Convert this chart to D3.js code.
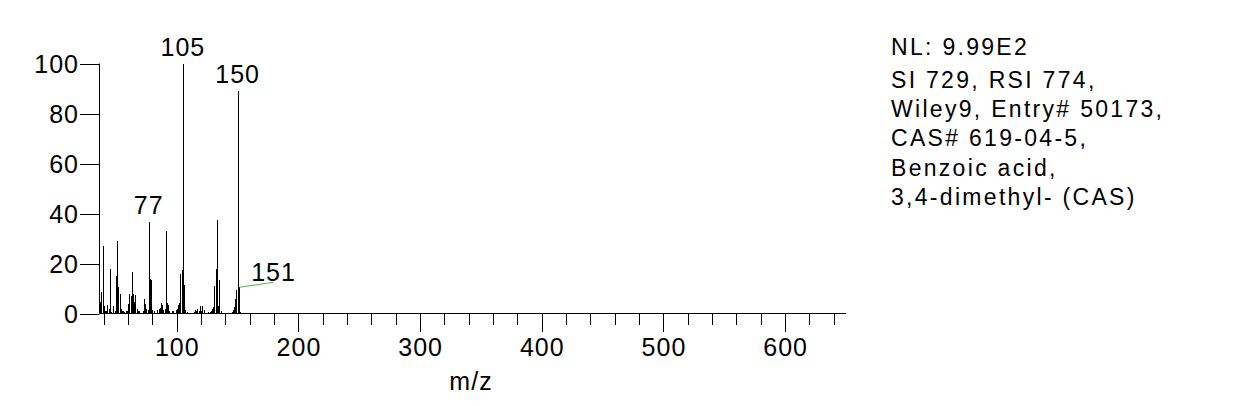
<!DOCTYPE html>
<html>
<head>
<meta charset="utf-8">
<script src="https://cdn.jsdelivr.net/npm/d3@7"></script>
<style>
  body { margin: 0; background: #fff; }
  text { font-family: "Liberation Sans", Arial, sans-serif; fill: #000; }
</style>
</head>
<body>
<div id="chart"></div>
<script>
// m/z values and relative abundances
const mz = [37, 38, 39, 40, 41, 42, 43, 44, 45, 46, 48, 49, 50, 51, 52, 53, 54, 55, 56, 57, 58, 59,
  60, 61, 62, 63, 64, 65, 66, 67, 68, 69, 72, 73, 74, 75, 76, 77, 78, 79, 80, 81, 84, 85, 86, 87,
  88, 89, 90, 91, 92, 93, 94, 96, 97, 99, 100, 101, 102, 103, 104, 105, 106, 107, 108, 114, 115,
  116, 117, 118, 119, 120, 121, 122, 126, 127, 128, 129, 130, 131, 132, 133, 134, 135, 136, 145,
  146, 147, 148, 149, 150, 151, 152];
const abundance = [4.5, 8.5, 27, 3, 1, 1, 3.3, 2, 18, 0.8, 3, 1, 15, 29, 10.5, 8, 2, 1, 1.2, 0.8, 1.2, 1,
  4, 7.7, 7, 16.5, 8, 4.5, 7.3, 2, 1, 1, 1, 6, 4, 2, 1.5, 36.5, 14, 13.6, 1.3, 1, 1.5, 2, 2.2, 4.3,
  3.3, 1.5, 2, 33, 4.3, 3.3, 1, 1, 1, 1.5, 2, 3.3, 4.3, 16, 17.6, 100, 11.3, 1.5, 0.8, 0.8, 1.5,
  1.2, 2, 1, 3, 1, 3, 1.5, 0.5, 0.8, 1, 2, 2.7, 11, 18, 37.6, 3, 13.3, 1, 0.6,
  1.3, 2.5, 6, 9.6, 89, 10.5, 0.8];

// labelled peaks; 151 gets a leader line
const labelledPeaks = [77, 105, 150];
const leaderPeaks = [151];

const xTicksMajor = [100, 200, 300, 400, 500, 600];
const xTicksMinor = [40, 60, 80, 120, 140, 160, 180, 220, 240, 260, 280, 320, 340, 360, 380,
  420, 440, 460, 480, 520, 540, 560, 580, 620, 640];
const yTicks = [0, 20, 40, 60, 80, 100];

const infoLines = ["NL: 9.99E2", "SI 729, RSI 774,", "Wiley9, Entry# 50173,",
  "CAS# 619-04-5,", "Benzoic acid,", "3,4-dimethyl- (CAS)"];

const width = 1236;
const height = 406;
const peaks = mz.map((m, i) => ({ mz: m, ab: abundance[i] }));

const svg = d3.select("#chart").append("svg")
  .attr("width", width)
  .attr("height", height);

const x = d3.scaleLinear().domain([36.5, 650]).range([99.5, 846]);
const y = d3.scaleLinear().domain([0, 100]).range([313.5, 63.5]);

// x axis line + ticks
svg.append("line")
  .attr("x1", 99.5).attr("x2", 846).attr("y1", 313.5).attr("y2", 313.5)
  .attr("stroke", "#000");

svg.selectAll(".xminor").data(xTicksMinor).enter().append("line")
  .attr("x1", d => Math.round(x(d)) + 0.5).attr("x2", d => Math.round(x(d)) + 0.5)
  .attr("y1", 313.5).attr("y2", 325)
  .attr("stroke", "#000");

svg.selectAll(".xmajor").data(xTicksMajor).enter().append("line")
  .attr("x1", d => Math.round(x(d)) + 0.5).attr("x2", d => Math.round(x(d)) + 0.5)
  .attr("y1", 313.5).attr("y2", 332)
  .attr("stroke", "#000");

svg.selectAll(".xlabel").data(xTicksMajor).enter().append("text")
  .attr("x", d => x(d) + 0.5)
  .attr("y", 356)
  .attr("text-anchor", "middle")
  .attr("font-size", 25)
  .attr("letter-spacing", 1)
  .text(d => d);

svg.append("text")
  .attr("x", 471).attr("y", 390)
  .attr("text-anchor", "middle")
  .attr("font-size", 25)
  .attr("letter-spacing", 1)
  .text("m/z");

// y axis line + ticks
svg.append("line")
  .attr("x1", 99.5).attr("x2", 99.5).attr("y1", 63.5).attr("y2", 313.5)
  .attr("stroke", "#000");

svg.selectAll(".ytick").data(yTicks).enter().append("line")
  .attr("x1", 80).attr("x2", 99.5)
  .attr("y1", d => Math.round(y(d)) + 0.5).attr("y2", d => Math.round(y(d)) + 0.5)
  .attr("stroke", "#000");

svg.selectAll(".ylabel").data(yTicks).enter().append("text")
  .attr("x", 79)
  .attr("y", d => y(d) + 9)
  .attr("text-anchor", "end")
  .attr("font-size", 25)
  .attr("letter-spacing", 1)
  .text(d => d);

// spectrum sticks
svg.selectAll(".stick").data(peaks).enter().append("line")
  .attr("x1", d => Math.round(x(d.mz)) + 0.5).attr("x2", d => Math.round(x(d.mz)) + 0.5)
  .attr("y1", 313.5).attr("y2", d => y(d.ab))
  .attr("stroke", "#000")
  .attr("stroke-width", 1)
  .attr("shape-rendering", "crispEdges");

// peak labels
const byMz = new Map(peaks.map(p => [p.mz, p]));
svg.selectAll(".plabel").data(labelledPeaks.map(m => byMz.get(m))).enter().append("text")
  .attr("x", d => x(d.mz))
  .attr("y", d => y(d.ab) - 8)
  .attr("text-anchor", "middle")
  .attr("font-size", 25)
  .attr("letter-spacing", 1)
  .text(d => d.mz);

leaderPeaks.forEach(m => {
  const p = byMz.get(m);
  const px = Math.round(x(p.mz)) + 0.5;
  const py = y(p.ab);
  svg.append("line")
    .attr("x1", px).attr("y1", py)
    .attr("x2", px + 34).attr("y2", py - 5)
    .attr("stroke", "#4db84d");
  svg.append("text")
    .attr("x", px + 34).attr("y", py - 6)
    .attr("text-anchor", "middle")
    .attr("font-size", 25)
    .attr("letter-spacing", 1)
    .text(p.mz);
});

// library hit text at top right
const lineY = [55, 88, 117, 146, 176, 205];
svg.selectAll(".info").data(infoLines).enter().append("text")
  .attr("x", 891)
  .attr("y", (d, i) => lineY[i])
  .attr("font-size", 23)
  .attr("letter-spacing", 2.3)
  .text(d => d);
</script>
</body>
</html>
